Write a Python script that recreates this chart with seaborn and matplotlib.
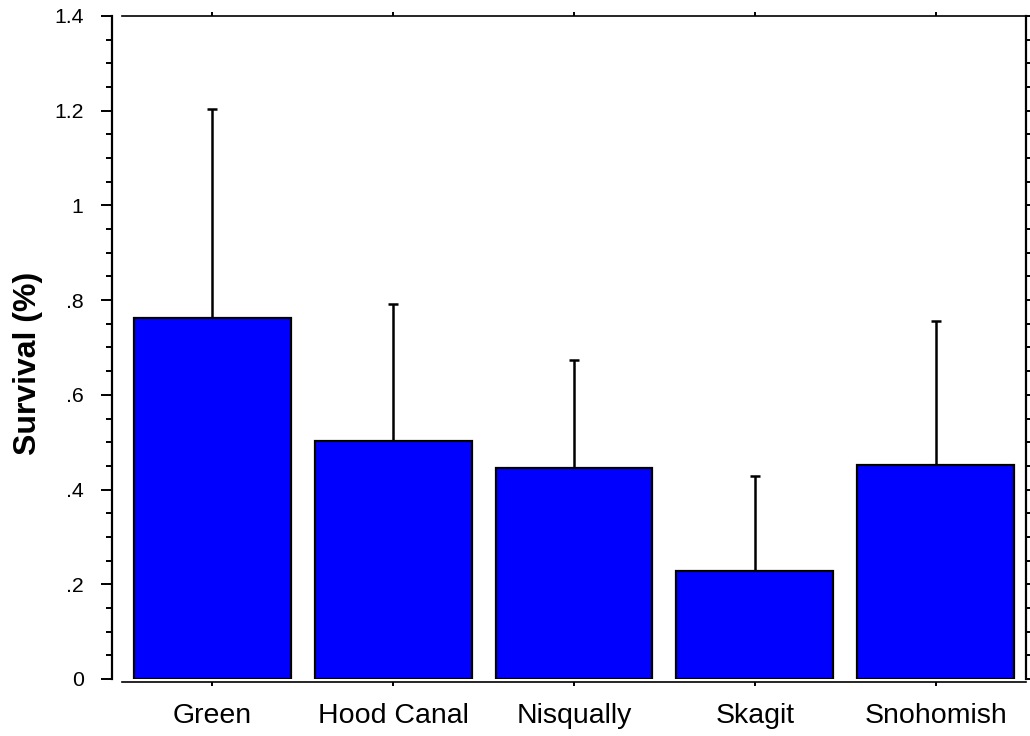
import matplotlib
matplotlib.use("Agg")
import matplotlib.pyplot as plt
import seaborn as sns
import numpy as np
from matplotlib.ticker import MultipleLocator, FixedLocator

categories = ["Green", "Hood Canal", "Nisqually", "Skagit", "Snohomish"]
survival = [0.762, 0.502, 0.445, 0.228, 0.451]
upper_err = [0.441, 0.290, 0.229, 0.201, 0.305]
ytick_values = [0, 0.2, 0.4, 0.6, 0.8, 1.0, 1.2, 1.4]
ytick_labels = ["0", ".2", ".4", ".6", ".8", "1", "1.2", "1.4"]

sns.set_style("ticks")
plt.rcParams["font.family"] = ["Liberation Sans", "DejaVu Sans"]
plt.rcParams["text.color"] = "black"
plt.rcParams["axes.labelcolor"] = "black"
plt.rcParams["xtick.color"] = "black"
plt.rcParams["ytick.color"] = "black"

fig = plt.figure(figsize=(10.3, 7.36), dpi=100)
ax = fig.add_axes([0.11845, 0.07745, 0.87767, 0.90082])

sns.barplot(x=categories, y=survival, color="#0000ff", edgecolor="black",
            linewidth=1.6, width=0.867, errorbar=None, saturation=1, ax=ax,
            zorder=2)
ax.errorbar(np.arange(len(categories)), survival,
            yerr=[np.zeros(len(categories)), upper_err],
            fmt="none", ecolor="black", elinewidth=1.8, capsize=3.5,
            capthick=1.8, zorder=1)

ax.set_xlim(-0.5, 4.5)
ax.set_ylim(0, 1.4)
ax.yaxis.set_major_locator(FixedLocator(ytick_values))
ax.set_yticklabels(ytick_labels)
ax.yaxis.set_minor_locator(MultipleLocator(0.05))

ax.set_ylabel("Survival (%)", fontsize=23, fontweight="bold", color="black")
ax.yaxis.set_label_coords(-0.087, 0.476)
ax.set_xlabel("")

for s in ["left", "bottom", "top", "right"]:
    ax.spines[s].set_visible(True)
    ax.spines[s].set_color("black")
    ax.spines[s].set_linewidth(1.2)
ax.spines["left"].set_linewidth(1.6)
ax.spines["left"].set_position(("outward", 7.2))
ax.spines["bottom"].set_position(("outward", 2.5))
ax.spines["right"].set_visible(False)

ax.tick_params(axis="y", which="major", direction="out", length=8, width=1.4,
               labelsize=15.3, pad=12.5, right=False, colors="black")
ax.tick_params(axis="y", which="minor", direction="out", length=4, width=1.4,
               right=False, colors="black")
ax.tick_params(axis="x", which="major", direction="out", length=3, width=1.4,
               labelsize=20.5, pad=11.5, top=True, bottom=True, colors="black")
ax.tick_params(axis="x", which="minor", bottom=False, top=False)

ax2 = ax.twinx()
ax2.set_ylim(0, 1.4)
ax2.yaxis.set_major_locator(FixedLocator(ytick_values))
ax2.yaxis.set_minor_locator(MultipleLocator(0.05))
ax2.tick_params(axis="y", which="both", direction="out", length=3, width=1.4,
                labelright=False, colors="black")
for s in ["left", "bottom", "top"]:
    ax2.spines[s].set_visible(False)
ax2.spines["right"].set_visible(True)
ax2.spines["right"].set_color("black")
ax2.spines["right"].set_linewidth(1.6)

fig.savefig("out.png", dpi=100)
